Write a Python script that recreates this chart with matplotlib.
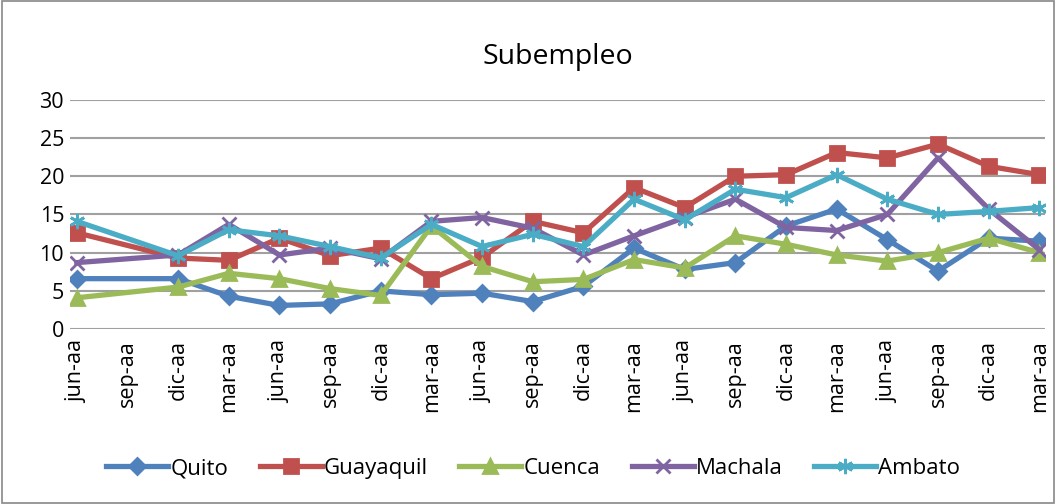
import numpy as np
import matplotlib.pyplot as plt
from matplotlib.patches import Rectangle

plt.rcParams['font.family'] = ['Open Sans', 'DejaVu Sans']

labels = ['jun-aa', 'sep-aa', 'dic-aa', 'mar-aa'] * 5
# sep-aa of the first year has no data (None)
quito = [6.6, None, 6.6, 4.3, 3.1, 3.3, 5.0, 4.5, 4.7, 3.6,
         5.6, 10.6, 7.8, 8.7, 13.5, 15.7, 11.7, 7.6, 11.9, 11.5]
guayaquil = [12.6, None, 9.3, 9.0, 11.9, 9.6, 10.6, 6.6, 9.4, 14.1,
             12.6, 18.5, 15.9, 20.0, 20.2, 23.1, 22.4, 24.2, 21.3, 20.2]
cuenca = [4.1, None, 5.5, 7.3, 6.6, 5.3, 4.4, 13.5, 8.2, 6.2,
          6.5, 9.1, 8.0, 12.2, 11.1, 9.7, 8.9, 10.0, 11.9, 10.0]
machala = [8.7, None, 9.7, 13.7, 9.7, 10.6, 9.2, 14.1, 14.6, 13.2,
           9.7, 12.2, 14.6, 17.0, 13.3, 12.9, 15.0, 22.4, 15.7, 10.4]
ambato = [14.1, None, 9.6, 13.0, 12.2, 10.8, 9.3, 13.7, 10.8, 12.4,
          10.8, 17.0, 14.3, 18.3, 17.2, 20.2, 17.0, 15.0, 15.4, 15.9]

series = [
    ('Quito', quito, '#4F81BD', 'D', 8),
    ('Guayaquil', guayaquil, '#C0504D', 's', 10),
    ('Cuenca', cuenca, '#9BBB59', '^', 10),
    ('Machala', machala, '#8064A2', 'x', 10),
    ('Ambato', ambato, '#4BACC6', (6, 2, 0), 11),
]

fig = plt.figure(figsize=(10.56, 5.04), dpi=100)
ax = fig.add_axes([0.066, 0.347, 0.924, 0.455])

for name, vals, color, marker, ms in series:
    xs = [i for i, v in enumerate(vals) if v is not None]
    ys = [v for v in vals if v is not None]
    ax.plot(xs, ys, color=color, lw=3.8, marker=marker, markersize=ms,
            markeredgewidth=2, markeredgecolor=color, label=name)

ax.set_ylim(0, 30)
ax.set_xlim(-0.14, 19.12)
ax.set_yticks(range(0, 31, 5))
ax.set_xticks(range(len(labels)))
ax.set_xticklabels(labels, rotation=90, fontsize=15.5)
ax.tick_params(axis='y', labelsize=15.5, length=0, pad=4)
ax.tick_params(axis='x', length=0, pad=8)
ax.grid(axis='y', color='#a0a0a0', lw=1.5)
ax.set_axisbelow(True)
for s in ax.spines.values():
    s.set_visible(False)

ax.set_title('Subempleo', fontsize=20.5, pad=26)

fig.legend(loc='center', bbox_to_anchor=(0.505, 0.07), ncol=5, frameon=False,
           fontsize=16, handlelength=2.8, columnspacing=1.4, handletextpad=0.1)

fig.add_artist(Rectangle((0.002, 0.002), 0.996, 0.996, transform=fig.transFigure,
                         fill=False, edgecolor='#888888', lw=1.2))

fig.savefig('out.png', dpi=100)
